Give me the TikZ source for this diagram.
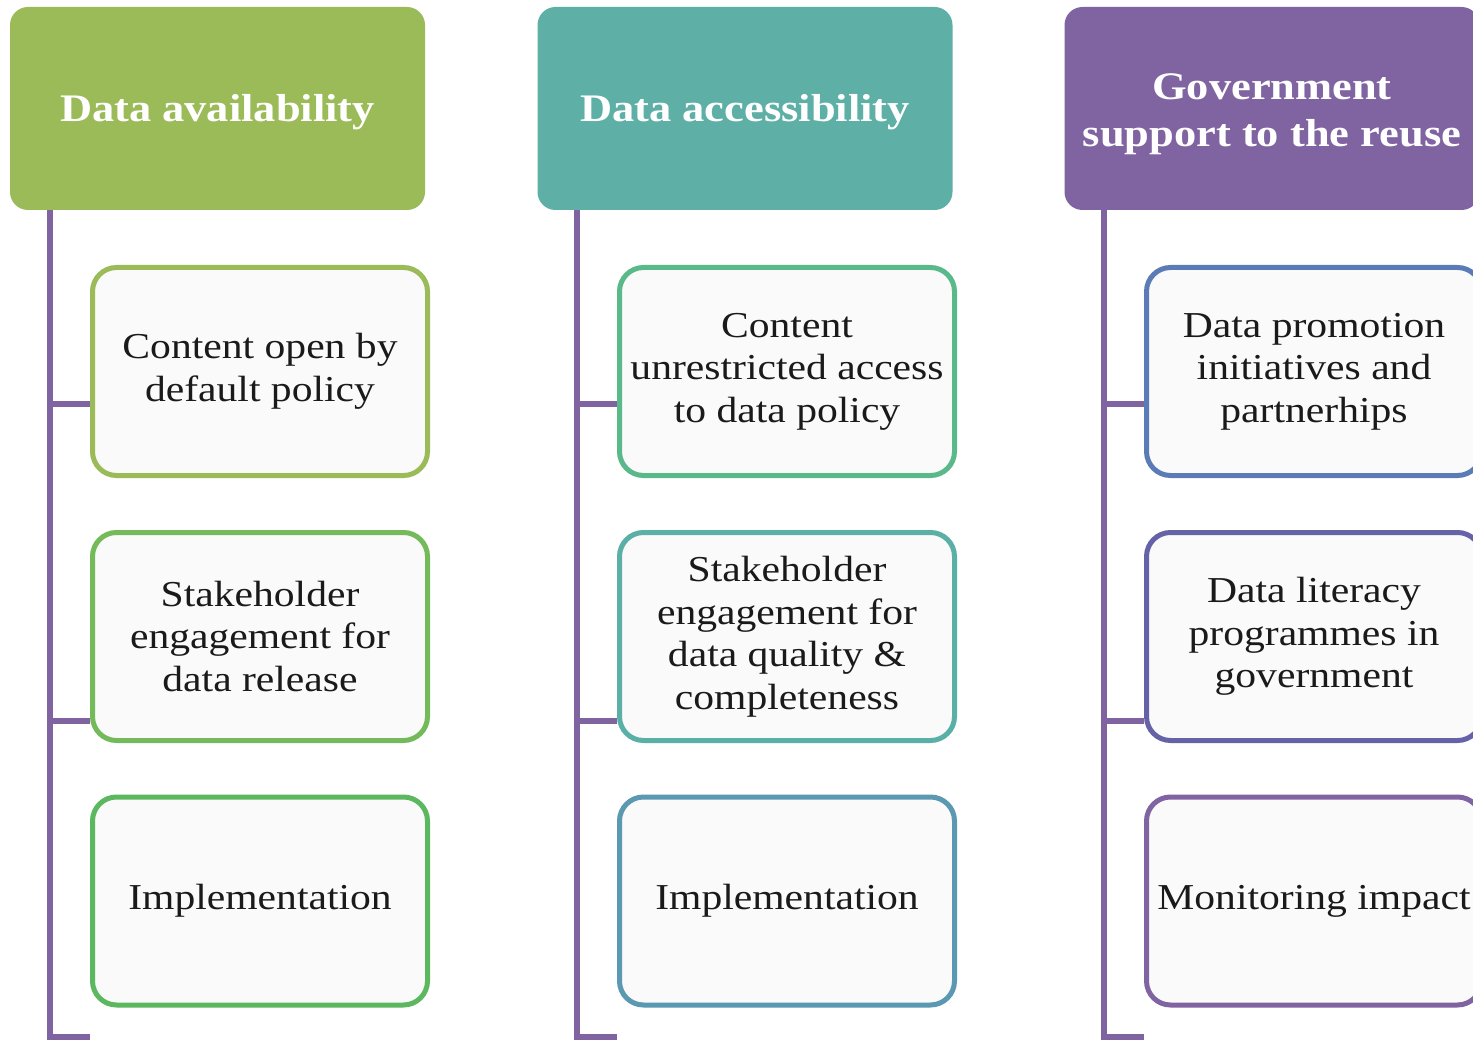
\documentclass[tikz,border=0pt]{standalone}
\usepackage{fontspec}
\setmainfont[FakeStretch=1.14]{Liberation Serif}
\definecolor{hgreen}{HTML}{9BBB59}
\definecolor{hteal}{HTML}{5EB0A7}
\definecolor{hpurple}{HTML}{8064A2}
\definecolor{connc}{HTML}{8064A2}
\definecolor{ba1}{HTML}{9BBB59}
\definecolor{ba2}{HTML}{74BA5A}
\definecolor{ba3}{HTML}{5CB85F}
\definecolor{bb1}{HTML}{5AB98A}
\definecolor{bb2}{HTML}{5AAFA6}
\definecolor{bb3}{HTML}{5B98B2}
\definecolor{bc1}{HTML}{5B7BB6}
\definecolor{bc2}{HTML}{6562A8}
\definecolor{bc3}{HTML}{8064A2}
\definecolor{boxfill}{HTML}{FAFAFA}
\definecolor{txt}{HTML}{1A1A1A}
\tikzset{
  hdr/.style={rectangle, rounded corners=18pt, minimum width=415pt, minimum height=203pt, inner sep=0pt},
  hdrtext/.style={text=white, font=\bfseries\fontsize{39}{47}\selectfont, align=center, inner sep=0pt},
  childbox/.style={rectangle, rounded corners=24pt, line width=5pt, fill=boxfill,
    minimum width=335pt, minimum height=208pt, text=txt,
    font=\fontsize{36.5}{42.5}\selectfont, align=center, inner sep=0pt},
  conn/.style={draw=connc, line width=6pt}
}
\begin{document}
\begin{tikzpicture}[x=1pt,y=-1pt]
\clip (0,0) rectangle (1473,1040);
\fill[white] (0,0) rectangle (1473,1040);
% connector points
\coordinate (v1t) at (50,210);  \coordinate (v1b) at (50,1045);
\coordinate (v2t) at (577,210); \coordinate (v2b) at (577,1045);
\coordinate (v3t) at (1104,210);\coordinate (v3b) at (1104,1045);
\foreach \c/\x in {1/50,2/577,3/1104}{
  \coordinate (j\c a) at (\x,404);
  \coordinate (j\c b) at (\x,721);
  \coordinate (j\c c) at (\x,1037);
}
% headers
\node[hdr, fill=hgreen] (h1) at (217.5,108.5) {};
\node[hdr, fill=hteal] (h2) at (745,108.5) {};
\node[hdr, fill=hpurple] (h3) at (1272,108.5) {};
\node[hdrtext] (h1t) at ([yshift=-4pt]h1.center) {Data availability};
\node[hdrtext] (h2t) at ([yshift=-4pt]h2.center) {Data accessibility};
\node[hdrtext] (h3t) at ([yshift=-6pt]h3.center) {Government\\support to the reuse};
% vertical lines
\draw[conn] (v1t) -- (v1b);
\draw[conn] (v2t) -- (v2b);
\draw[conn] (v3t) -- (v3b);
% children
\node[childbox, draw=ba1] (a1) at (260,371.5) {Content open by\\default policy};
\node[childbox, draw=ba2] (a2) at (260,636.5) {Stakeholder\\engagement for\\data release};
\node[childbox, draw=ba3] (a3) at (260,901) {Implementation};
\node[childbox, draw=bb1] (b1) at (787,371.5) {Content\\unrestricted access\\to data policy};
\node[childbox, draw=bb2] (b2) at (787,636.5) {Stakeholder\\engagement for\\data quality \&\\completeness};
\node[childbox, draw=bb3] (b3) at (787,901) {Implementation};
\node[childbox, draw=bc1] (c1) at (1314,371.5) {Data promotion\\initiatives and\\partnerhips};
\node[childbox, draw=bc2] (c2) at (1314,636.5) {Data literacy\\programmes in\\government};
\node[childbox, draw=bc3] (c3) at (1314,901) {Monitoring impact};
% branches
\draw[conn] (j1a) -- (j1a -| a1.west);
\draw[conn] (j1b) -- (j1b -| a2.west);
\draw[conn] (j1c) -- (j1c -| a3.west);
\draw[conn] (j2a) -- (j2a -| b1.west);
\draw[conn] (j2b) -- (j2b -| b2.west);
\draw[conn] (j2c) -- (j2c -| b3.west);
\draw[conn] (j3a) -- (j3a -| c1.west);
\draw[conn] (j3b) -- (j3b -| c2.west);
\draw[conn] (j3c) -- (j3c -| c3.west);
\end{tikzpicture}
\end{document}
